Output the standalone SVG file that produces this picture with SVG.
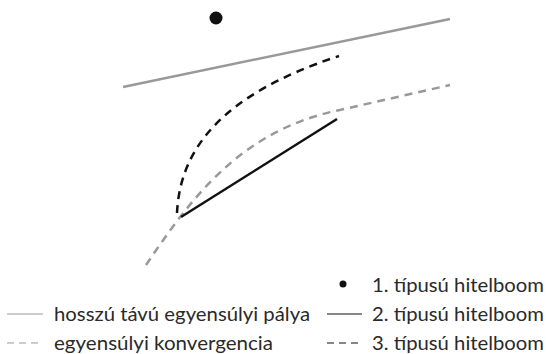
<svg xmlns="http://www.w3.org/2000/svg" width="546" height="354" viewBox="0 0 546 354">
<style>
.t{font-family:"Lato","Liberation Sans",sans-serif;font-size:20px;fill:#2a2a2a}
.g{stroke:#999;stroke-width:2.5;fill:none}
.gd{stroke:#999;stroke-width:2.5;fill:none;stroke-dasharray:8 6}
.k{stroke:#111;stroke-width:2.5;fill:none}
.kd{stroke:#111;stroke-width:2.5;fill:none;stroke-dasharray:8 6}
.lg{stroke:#999;stroke-width:1.2;fill:none}
.lgd{stroke:#999;stroke-width:1.2;fill:none;stroke-dasharray:7 5}
.lk{stroke:#111;stroke-width:1.2;fill:none}
.lkd{stroke:#111;stroke-width:1.2;fill:none;stroke-dasharray:7 5}
</style>
<rect width="546" height="354" fill="#fff"/>
<g id="connectors">
<path class="g" d="M123,87 L450,19"/>
<path class="kd" d="M177,213 C180,150 220,95 339,56"/>
<path class="gd" d="M146,265 C190,200 240,130 340,110 L450,85"/>
<path class="k" d="M181,217 L337,119"/>
</g>
<g id="boom1"><circle cx="216" cy="18" r="6.5" fill="#111"/></g>
<g id="legend">
<circle cx="343" cy="284" r="3.5" fill="#111"/>
<text class="t" x="372" y="292" textLength="172" lengthAdjust="spacingAndGlyphs">1. típusú hitelboom</text>
<path class="lk" d="M327,314 L362,314"/>
<text class="t" x="372" y="321" textLength="172" lengthAdjust="spacingAndGlyphs">2. típusú hitelboom</text>
<path class="lkd" d="M327,343 L362,343"/>
<text class="t" x="372" y="350" textLength="172" lengthAdjust="spacingAndGlyphs">3. típusú hitelboom</text>
<path class="lg" d="M7,314 L43,314"/>
<text class="t" x="54" y="321" textLength="256" lengthAdjust="spacingAndGlyphs">hosszú távú egyensúlyi pálya</text>
<path class="lgd" d="M7,343 L43,343"/>
<text class="t" x="54" y="350" textLength="219" lengthAdjust="spacingAndGlyphs">egyensúlyi konvergencia</text>
</g>
</svg>
